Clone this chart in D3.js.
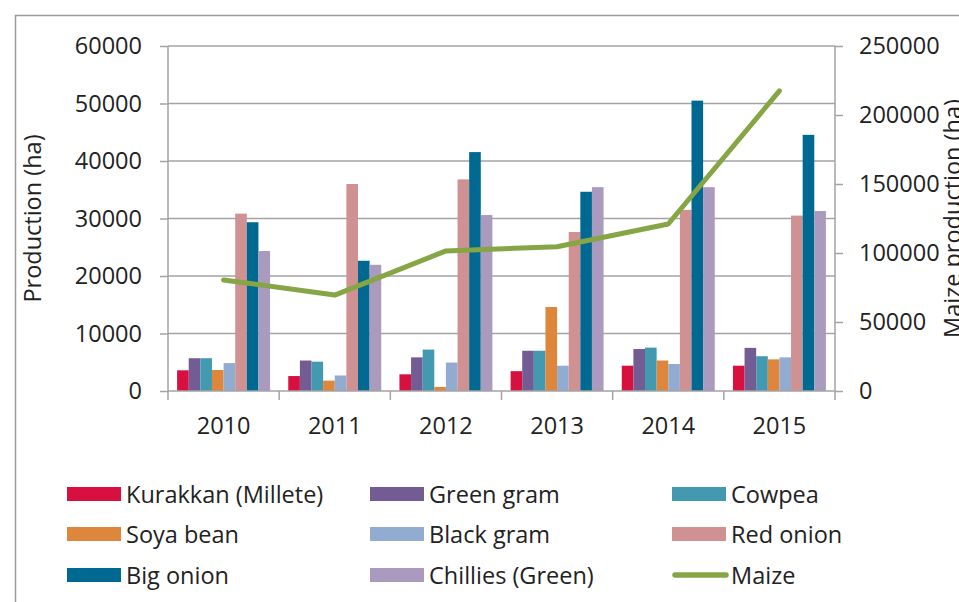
<!DOCTYPE html>
<html>
<head>
<meta charset="utf-8">
<script src="https://cdn.jsdelivr.net/npm/d3@7"></script>
<style>
  html, body { margin: 0; padding: 0; background: #fff; }
  svg { display: block; }
  text { font-family: "Open Sans", "Noto Sans", sans-serif; fill: #222; }
</style>
</head>
<body>
<svg id="chart" width="959" height="602"></svg>
<script>
const years = ["2010", "2011", "2012", "2013", "2014", "2015"];
const barSeries = ["Kurakkan (Millete)", "Green gram", "Cowpea", "Soya bean", "Black gram", "Red onion", "Big onion", "Chillies (Green)"];
const kurakkan = [3600, 2600, 2900, 3450, 4400, 4400];
const greenGram = [5700, 5300, 5850, 7000, 7300, 7500];
const cowpea = [5700, 5100, 7200, 7000, 7550, 6050];
const soyaBean = [3650, 1800, 700, 14600, 5300, 5500];
const blackGram = [4850, 2700, 4950, 4400, 4700, 5850];
const redOnion = [30850, 36000, 36800, 27650, 31500, 30500];
const bigOnion = [29350, 22650, 41550, 34650, 50500, 44550];
const chillies = [24350, 21950, 30600, 35450, 35450, 31300];
const maize = [80500, 69500, 101500, 104500, 121000, 217500];
const leftTicks = [0, 10000, 20000, 30000, 40000, 50000, 60000];
const rightTicks = [0, 50000, 100000, 150000, 200000, 250000];
const barColors = ["#D7103F", "#735C93", "#439AB0", "#DE863B", "#91ABD1", "#D09192", "#006991", "#A99ABE"];
const maizeColor = "#86A544";

const barValues = [kurakkan, greenGram, cowpea, soyaBean, blackGram, redOnion, bigOnion, chillies];

const svg = d3.select("#chart");
const pLeft = 168, pRight = 835, pTop = 46, pBottom = 391;
const gridColor = "#A3A3A3";

// outer frame
svg.append("path").attr("d", "M15.5,602 L15.5,15.5 L959,15.5")
  .attr("fill", "none").attr("stroke", "#9a9a9a").attr("stroke-width", 1.5);

const x0 = d3.scaleBand().domain(years).range([pLeft, pRight]).paddingInner(0).paddingOuter(0);
const inner = 9.1;
const x1 = d3.scaleBand().domain(barSeries).range([inner, x0.bandwidth() - inner]).padding(0);
const y = d3.scaleLinear().domain([0, 60000]).range([pBottom, pTop]);
const y2 = d3.scaleLinear().domain([0, 250000]).range([pBottom, pTop]);

// gridlines
svg.append("g").selectAll("line").data(leftTicks.slice(1)).join("line")
  .attr("x1", pLeft).attr("x2", pRight)
  .attr("y1", d => y(d)).attr("y2", d => y(d))
  .attr("stroke", gridColor).attr("stroke-width", 1.5);

// bars
const groups = svg.append("g").selectAll("g").data(years).join("g")
  .attr("transform", d => `translate(${x0(d)},0)`);
groups.selectAll("rect")
  .data((yr, i) => barSeries.map((s, j) => ({ s, j, v: barValues[j][i] })))
  .join("rect")
  .attr("x", d => x1(d.s))
  .attr("width", x1.bandwidth())
  .attr("y", d => y(d.v))
  .attr("height", d => y(0) - y(d.v))
  .attr("fill", d => barColors[d.j]);

// left axis
const axL = svg.append("g").attr("transform", `translate(${pLeft},0)`)
  .call(d3.axisLeft(y).tickValues(leftTicks).tickSize(8).tickPadding(18).tickFormat(d3.format("d")));
axL.select(".domain").remove();
axL.selectAll(".tick line").attr("stroke", gridColor).attr("stroke-width", 1.5);
axL.selectAll("text").style("font-size", "23.5px").attr("font-family", null).attr("fill", "#222");
svg.append("line").attr("x1", pLeft).attr("x2", pLeft).attr("y1", pTop).attr("y2", pBottom + 9)
  .attr("stroke", gridColor).attr("stroke-width", 1.5);

// right axis
const axR = svg.append("g").attr("transform", `translate(${pRight},0)`)
  .call(d3.axisRight(y2).tickValues(rightTicks).tickSize(8).tickPadding(16).tickFormat(d3.format("d")));
axR.select(".domain").remove();
axR.selectAll(".tick line").attr("stroke", gridColor).attr("stroke-width", 1.5);
axR.selectAll("text").style("font-size", "23.5px").attr("font-family", null).attr("fill", "#222");
svg.append("line").attr("x1", pRight).attr("x2", pRight).attr("y1", pTop).attr("y2", pBottom + 9)
  .attr("stroke", gridColor).attr("stroke-width", 1.5);

// bottom axis
svg.append("line").attr("x1", pLeft).attr("x2", pRight).attr("y1", pBottom).attr("y2", pBottom)
  .attr("stroke", gridColor).attr("stroke-width", 1.5);
svg.append("g").selectAll("line").data(years.slice(1)).join("line")
  .attr("x1", d => x0(d)).attr("x2", d => x0(d))
  .attr("y1", pBottom).attr("y2", pBottom + 9)
  .attr("stroke", gridColor).attr("stroke-width", 1.5);
svg.append("g").selectAll("text").data(years).join("text")
  .attr("x", d => x0(d) + x0.bandwidth() / 2)
  .attr("y", 434)
  .attr("text-anchor", "middle")
  .style("font-size", "23.5px")
  .text(d => d);

// maize line
const line = d3.line()
  .x((d, i) => x0(years[i]) + x0.bandwidth() / 2)
  .y(d => y2(d));
svg.append("path").datum(maize)
  .attr("d", line)
  .attr("fill", "none")
  .attr("stroke", maizeColor)
  .attr("stroke-width", 5)
  .attr("stroke-linecap", "round")
  .attr("stroke-linejoin", "round");

// axis titles
svg.append("text")
  .attr("transform", `translate(41,${(pTop + pBottom) / 2}) rotate(-90)`)
  .attr("text-anchor", "middle")
  .style("font-size", "23.5px")
  .text("Production (ha)");
svg.append("text")
  .attr("transform", `translate(961,${(pTop + pBottom) / 2}) rotate(-90)`)
  .attr("text-anchor", "middle")
  .style("font-size", "23.5px")
  .text("Maize production (ha)");

// legend
const legendItems = barSeries.map((s, j) => ({ name: s, color: barColors[j], type: "bar" }))
  .concat([{ name: "Maize", color: maizeColor, type: "line" }]);
const colX = [67, 370, 672];
const rowY = [494, 534, 575];
const leg = svg.append("g").selectAll("g").data(legendItems).join("g")
  .attr("transform", (d, i) => `translate(${colX[i % 3]},${rowY[Math.floor(i / 3)]})`);
leg.filter(d => d.type === "bar").append("rect")
  .attr("x", 0).attr("y", -7).attr("width", 54).attr("height", 14)
  .attr("fill", d => d.color);
leg.filter(d => d.type === "line").append("line")
  .attr("x1", 3).attr("x2", 54).attr("y1", 0).attr("y2", 0)
  .attr("stroke", d => d.color).attr("stroke-width", 5.5).attr("stroke-linecap", "round");
leg.append("text")
  .attr("x", 59).attr("y", 8.5)
  .style("font-size", "23.5px")
  .text(d => d.name);
</script>
</body>
</html>
